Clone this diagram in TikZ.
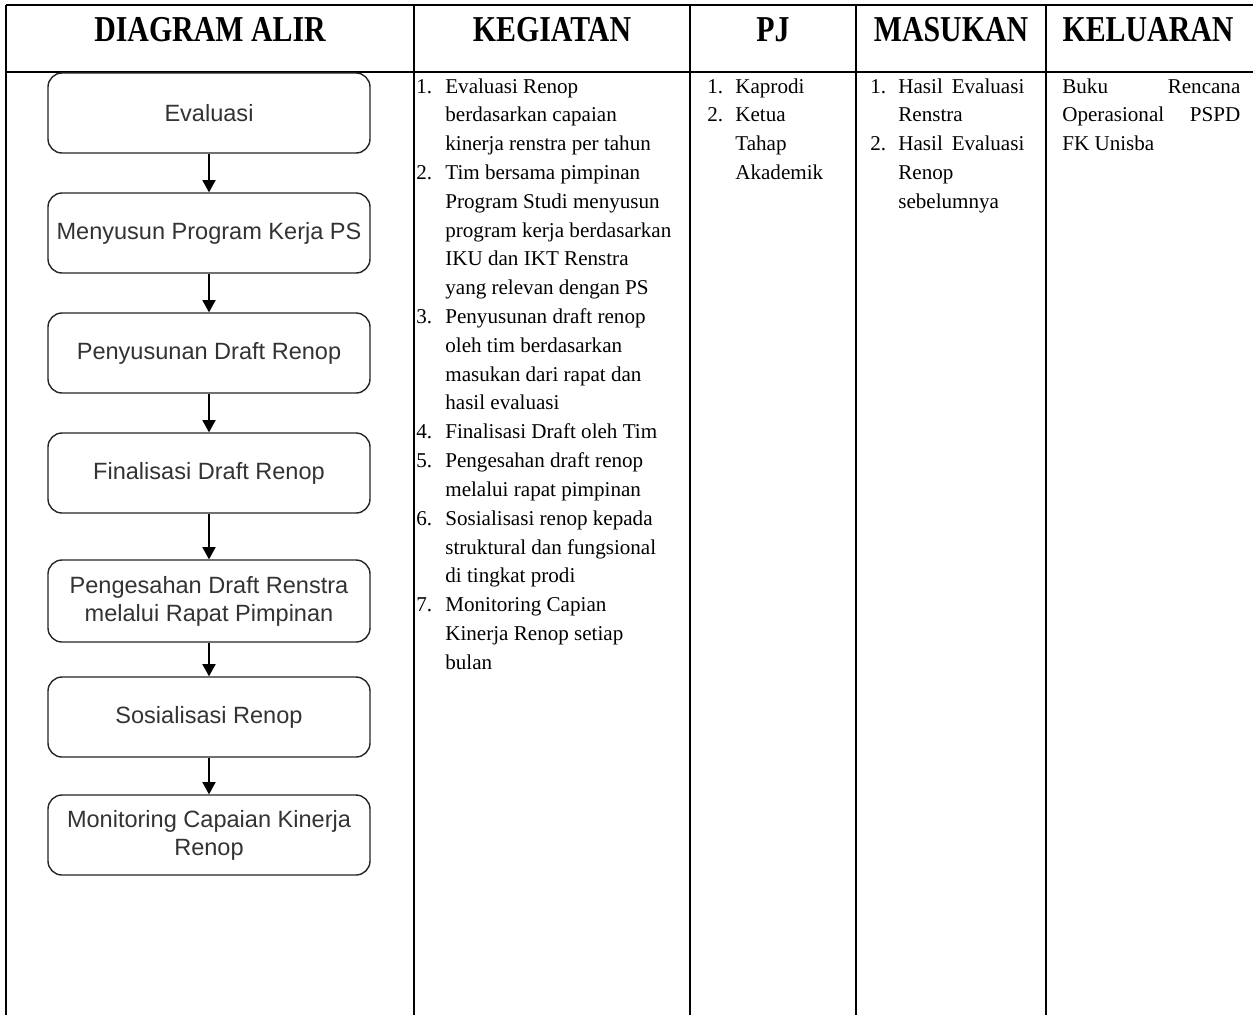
\documentclass[tikz,border=0pt]{standalone}
\usepackage{fontspec}
\usepackage{graphicx}
\setmainfont{Liberation Serif}
\newfontfamily\arialf{Liberation Sans}
\usetikzlibrary{arrows.meta}
\newlength{\px}\setlength{\px}{0.02cm}
\newcommand{\hdtxt}[1]{\scalebox{1}[1.22]{#1}}
\begin{document}
\begin{tikzpicture}[x=0.02cm,y=-0.02cm,
  grid/.style={line width=1.1pt},
  flow/.style={draw=black!85, line width=0.8pt, rounded corners=8pt, minimum width=322\px, minimum height=80\px, font=\arialf\fontsize{13.4}{16}\selectfont, text=black!80, align=center, inner sep=0pt},
  head/.style={anchor=base, inner sep=0pt, font=\bfseries\fontsize{17}{20}\selectfont},
  body/.style={anchor=base west, inner sep=0pt, font=\fontsize{12}{16.4}\selectfont},
  arr/.style={-{Triangle[width=7.5pt,length=7pt]}, line width=0.8pt}]
\useasboundingbox[fill=white] (0,0) rectangle (1253,1015);
% table rules
\draw[grid] (6,5) -- (1253,5);
\draw[grid] (6,72) -- (1253,72);
\foreach \xx in {6,414,690,856,1046} \draw[grid] (\xx,5) -- (\xx,1015);
% headers
\node[head] (h1) at (210,41) {\hdtxt{DIAGRAM ALIR}};
\node[head] (h2) at (552,41) {\hdtxt{KEGIATAN}};
\node[head] (h3) at (773,41) {\hdtxt{PJ}};
\node[head] (h4) at (951,41) {\hdtxt{MASUKAN}};
\node[head] (h5) at (1148,41) {\hdtxt{KELUARAN}};
% flow
\node[flow] (f1) at (209,113) {Evaluasi};
\node[flow] (f2) at (209,233) {Menyusun Program Kerja PS};
\node[flow] (f3) at (209,353) {Penyusunan Draft Renop};
\node[flow] (f4) at (209,473) {Finalisasi Draft Renop};
\node[flow, minimum height=82\px] (f5) at (209,601) {Pengesahan Draft Renstra\\melalui Rapat Pimpinan};
\node[flow] (f6) at (209,717) {Sosialisasi Renop};
\node[flow] (f7) at (209,835) {Monitoring Capaian Kinerja\\Renop};
\draw[arr] (f1) -- (f2);
\draw[arr] (f2) -- (f3);
\draw[arr] (f3) -- (f4);
\draw[arr] (f4) -- (f5);
\draw[arr] (f5) -- (f6);
\draw[arr] (f6) -- (f7);
% KEGIATAN
\node[body] (keg) at (416,93) {\begin{tabular}[t]{@{}p{29\px}@{}l@{}}
1. & Evaluasi Renop\\
 & berdasarkan capaian\\
 & kinerja renstra per tahun\\
2. & Tim bersama pimpinan\\
 & Program Studi menyusun\\
 & program kerja berdasarkan\\
 & IKU dan IKT Renstra\\
 & yang relevan dengan PS\\
3. & Penyusunan draft renop\\
 & oleh tim berdasarkan\\
 & masukan dari rapat dan\\
 & hasil evaluasi\\
4. & Finalisasi Draft oleh Tim\\
5. & Pengesahan draft renop\\
 & melalui rapat pimpinan\\
6. & Sosialisasi renop kepada\\
 & struktural dan fungsional\\
 & di tingkat prodi\\
7. & Monitoring Capian\\
 & Kinerja Renop setiap\\
 & bulan
\end{tabular}};
% PJ
\node[body] (pj) at (707,93) {\begin{tabular}[t]{@{}p{28\px}@{}l@{}}
1. & Kaprodi\\
2. & Ketua\\
 & Tahap\\
 & Akademik
\end{tabular}};
% MASUKAN
\node[body] (mas) at (870,93) {\begin{tabular}[t]{@{}p{28\px}@{}l@{}}
1. & \makebox[126\px][s]{Hasil Evaluasi}\\
 & Renstra\\
2. & \makebox[126\px][s]{Hasil Evaluasi}\\
 & Renop\\
 & sebelumnya
\end{tabular}};
% KELUARAN
\node[body] (kel) at (1062,93) {\begin{tabular}[t]{@{}l@{}}
\makebox[178\px][s]{Buku Rencana}\\
\makebox[178\px][s]{Operasional PSPD}\\
FK Unisba
\end{tabular}};
\end{tikzpicture}
\end{document}
